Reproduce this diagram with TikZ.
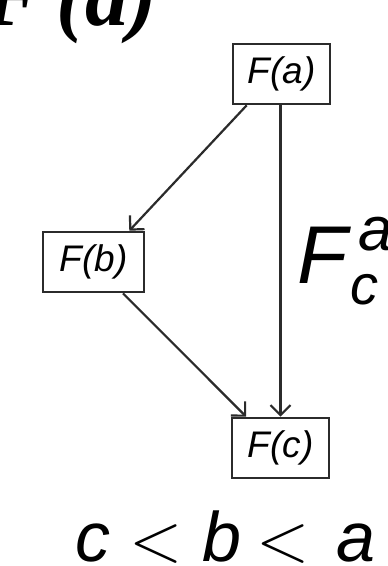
\RequirePackage{fix-cm}
\documentclass[tikz,border=0pt]{standalone}
\usepackage{fontspec}
\setmainfont{Liberation Sans}
\newfontfamily\serifit{Liberation Serif}
\usetikzlibrary{arrows.meta,calc}
\definecolor{ink}{HTML}{2B2B2B}
\tikzset{
  fbox/.style={draw=ink, line width=2.6pt, fill=white, inner sep=0pt, font=\fontsize{37}{40}\selectfont\itshape},
  conn/.style={draw=ink, line width=2.2pt, -{Straight Barb[length=10pt,width=20pt,line width=2.2pt]}},
  big/.style={inner sep=0pt, text=black}
}
\begin{document}
\begin{tikzpicture}[x=1pt,y=-1pt]
\useasboundingbox (0,0) rectangle (388,566);
\clip (0,0) rectangle (388,566);
\fill[white] (0,0) rectangle (388,566);
% cropped heading
\node[big, anchor=base east, font=\fontsize{86}{90}\selectfont\serifit\itshape\bfseries] (head) at (157,25) {F\,(a)};
% boxes
\node[fbox, minimum width=97pt, minimum height=60pt] (fa) at (281.5,74) {F(a)};
\node[fbox, minimum width=101pt, minimum height=60pt] (fb) at (93.5,262) {F(b)};
\node[fbox, minimum width=97pt, minimum height=60pt] (fc) at (280.5,448) {F(c)};
% connectors
\coordinate (vtop) at ($(fa.south)+(-1,0)$);
\coordinate (ab) at ($(fa.south west)+(15,0)$);
\coordinate (bb) at ($(fb.north east)+(-16,0)$);
\coordinate (bc) at ($(fb.south)+(29.5,0)$);
\coordinate (cc) at ($(fc.north west)+(15.5,0)$);
\draw[conn] (ab) -- (bb);
\draw[conn] (bc) -- (cc);
\draw[conn] (vtop) -- (vtop |- fc.north);
% big label
\node[big, anchor=base west, font=\fontsize{82}{86}\selectfont\itshape] (flab) at (297,283) {F};
\node[big, anchor=base west, font=\fontsize{62}{66}\selectfont\itshape] (sup) at (358,250) {a};
\node[big, anchor=base west, font=\fontsize{56}{60}\selectfont\itshape] (sub) at (350,304) {c};
% order relation
\node[big, anchor=base west, font=\fontsize{70}{74}\selectfont] (rel) at (75,561)
  {\textit{c}\hspace{19pt}$<$\hspace{20pt}\textit{b}\hspace{15pt}$<$\hspace{27pt}\textit{a}};
\end{tikzpicture}
\end{document}
